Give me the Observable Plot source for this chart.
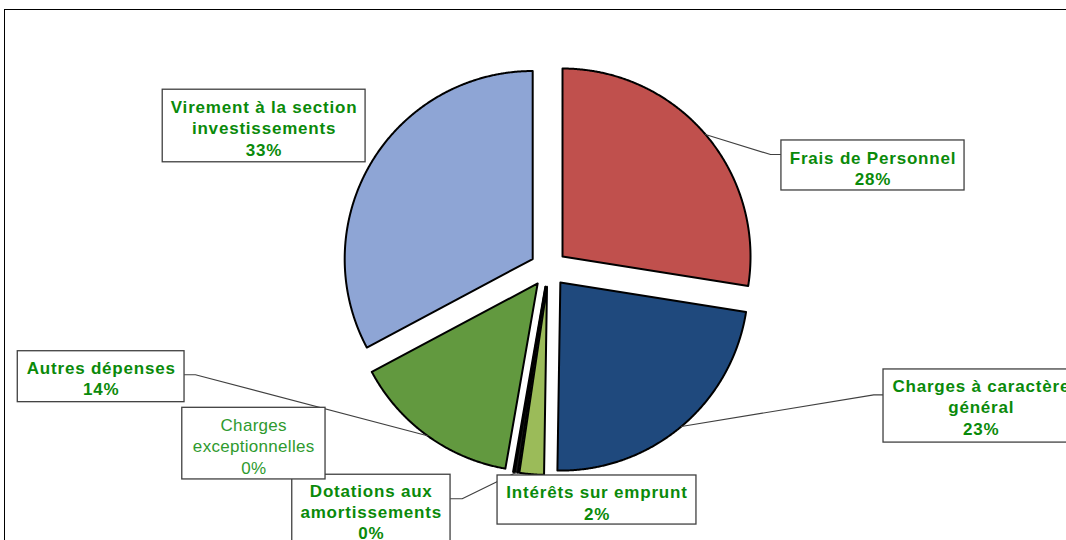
<!DOCTYPE html>
<html>
<head>
<meta charset="utf-8">
<script src="https://cdn.jsdelivr.net/npm/d3@7"></script>
<script src="https://cdn.jsdelivr.net/npm/@observablehq/plot@0.6"></script>
<style>
  html, body { margin: 0; padding: 0; background: #fff; overflow: hidden; }
  #wrap { position: relative; width: 1066px; height: 540px; }
  #frame { position: absolute; left: 4px; top: 9px; right: -20px; bottom: -20px; border: 1.5px solid #000; pointer-events: none; }
  .lbl-bold text { letter-spacing: 0.8px; }
  .lbl-normal text { letter-spacing: 0.3px; }
</style>
</head>
<body>
<div id="wrap"><div id="frame"></div></div>
<script>
// ---- data ----
const categories = [
  "Frais de Personnel",
  "Charges à caractère général",
  "Intérêts sur emprunt",
  "Dotations aux amortissements",
  "Charges exceptionnelles",
  "Autres dépenses",
  "Virement à la section investissements"
];
const values = [27.5, 22.75, 2.1, 0.3, 0.1, 14.45, 32.8];
const labelText = [
  "Frais de Personnel",
  "Charges à caractère\ngénéral",
  "Intérêts sur emprunt",
  "Dotations aux\namortissements",
  "Charges\nexceptionnelles",
  "Autres dépenses",
  "Virement à la section\ninvestissements"
];
const colors = ["#C0504D", "#1F497D", "#9BBB59", "#1a1a1a", "#E8E800", "#62993F", "#8EA5D5"];
const boldLabel = [true, true, true, true, false, true, true];

// ---- layout (units of pie radius, relative to pie centre, y up) ----
const explode = 0.098;
const labelBoxes = [ // x1, x2, yTop, yBottom, textX, textY
  [1.239, 2.213, 0.681, 0.415, 1.726, 0.537],
  [1.782, 2.830, -0.537, -0.926, 2.302, -0.734],
  [-0.271, 0.787, -1.101, -1.362, 0.258, -1.243],
  [-1.363, -0.521, -1.097, -1.484, -0.943, -1.290],
  [-1.948, -1.186, -0.741, -1.122, -1.568, -0.941],
  [-2.823, -1.936, -0.440, -0.711, -2.379, -0.582],
  [-2.052, -0.973, 0.951, 0.565, -1.513, 0.750]
];
const leaders = [ // slice index, attachX, attachY, elbowX
  [0, 1.239, 0.606, 1.181],
  [1, 1.782, -0.672, 1.730],
  [3, -0.521, -1.225, -0.459],
  [5, -1.936, -0.565, -1.878]
];

// ---- geometry from data ----
const arcs = d3.pie().sort(null).value(d => d)(values);
const slicePts = [];
const mids = arcs.map((a) => {
  const m = (a.startAngle + a.endAngle) / 2;
  return {m, ox: explode * Math.sin(m), oy: explode * Math.cos(m)};
});
arcs.forEach((a, i) => {
  const {ox, oy} = mids[i];
  const key = categories[i];
  slicePts.push({key, x: ox, y: oy});
  const n = Math.max(2, Math.ceil((a.endAngle - a.startAngle) / 0.005));
  for (let k = 0; k <= n; k++) {
    const t = a.startAngle + (a.endAngle - a.startAngle) * k / n;
    slicePts.push({key, x: ox + Math.sin(t), y: oy + Math.cos(t)});
  }
});

const leaderPts = [];
leaders.forEach(([i, ax, ay, ex], j) => {
  const {m, ox, oy} = mids[i];
  leaderPts.push({z: j, x: ox + Math.sin(m), y: oy + Math.cos(m)});
  leaderPts.push({z: j, x: ex, y: ay});
  leaderPts.push({z: j, x: ax, y: ay});
});

const labels = categories.map((c, i) => ({
  key: c,
  x1: labelBoxes[i][0], x2: labelBoxes[i][1],
  y1: labelBoxes[i][2], y2: labelBoxes[i][3],
  tx: labelBoxes[i][4], ty: labelBoxes[i][5],
  text: labelText[i] + "\n" + Math.round(values[i]) + "%",
  bold: boldLabel[i]
}));

const W = 1066, H = 540, R = 188, CX = 548, CY = 268;

const chart = Plot.plot({
  width: W, height: H,
  margin: 0,
  style: {background: "transparent", overflow: "visible"},
  x: {domain: [-CX / R, (W - CX) / R], axis: null},
  y: {domain: [-(H - CY) / R, CY / R], axis: null},
  color: {domain: categories, range: colors},
  marks: [
    Plot.line(slicePts, {x: "x", y: "y", z: "key", fill: "key", stroke: "#000", strokeWidth: 2, strokeLinejoin: "round", curve: "linear-closed"}),
    Plot.line(leaderPts, {x: "x", y: "y", z: "z", stroke: "#404040", strokeWidth: 1.1}),
    Plot.rect(labels, {x1: "x1", x2: "x2", y1: "y1", y2: "y2", fill: "#fff", stroke: "#404040", strokeWidth: 1.3}),
    Plot.text(labels.filter(d => d.bold), {x: "tx", y: "ty", text: "text", fill: "#0A8A0A", fontSize: 17, fontWeight: "bold", fontFamily: "Liberation Sans, Arial, sans-serif", lineHeight: 1.25, className: "lbl-bold"}),
    Plot.text(labels.filter(d => !d.bold), {x: "tx", y: "ty", text: "text", fill: "#2E9A2E", fontSize: 17, fontFamily: "Liberation Sans, Arial, sans-serif", lineHeight: 1.27, className: "lbl-normal"})
  ]
});
chart.style.position = "absolute";
chart.style.left = "0";
chart.style.top = "0";
document.getElementById("wrap").prepend(chart);
</script>
</body>
</html>
